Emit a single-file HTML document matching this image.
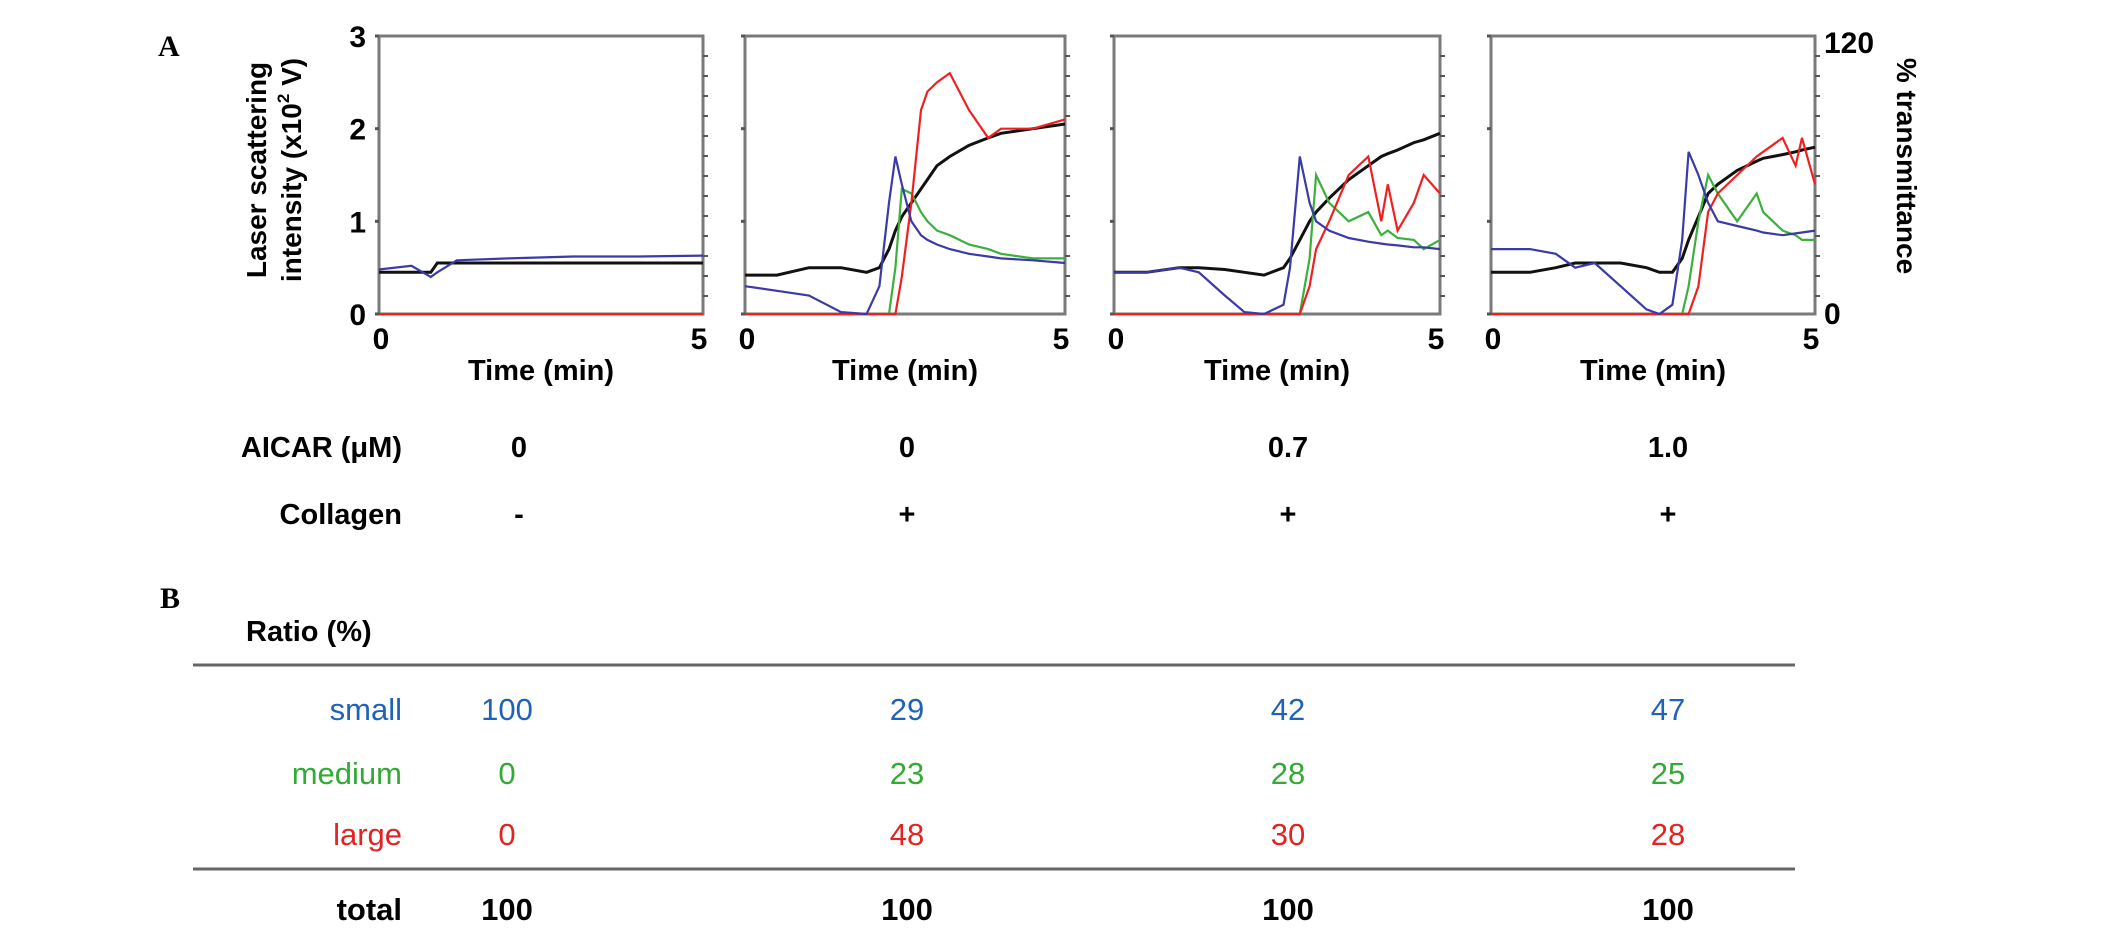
<!DOCTYPE html>
<html><head><meta charset="utf-8"><style>
body{margin:0;background:#fff;}
svg{display:block;font-family:"Liberation Sans",Arial,sans-serif;}
</style></head><body>
<svg id="fig" width="2126" height="939" viewBox="0 0 2126 939">
<text x="158" y="56" font-family="Liberation Serif,serif" font-weight="bold" font-size="30">A</text>
<g font-weight="bold" font-size="28" text-anchor="middle">
<text transform="translate(266,170) rotate(-90)">Laser scattering</text>
<text transform="translate(301,170) rotate(-90)">intensity (x10<tspan font-size="17" dy="-12">2</tspan><tspan dy="12"> V)</tspan></text>
</g>
<g font-weight="bold" font-size="30" text-anchor="end" id="yticks"></g>
<g font-weight="bold" font-size="30">
<text x="1824" y="53">120</text>
<text x="1824" y="324">0</text>
<text transform="translate(1897,166) rotate(90)" text-anchor="middle" font-size="28">% transmittance</text>
</g>
<g id="panels"></g>
<g font-weight="bold" font-size="29">
<text x="402" y="457" text-anchor="end">AICAR (μM)</text>
<text x="402" y="524" text-anchor="end">Collagen</text>
<text x="519" y="457" text-anchor="middle">0</text><text x="907" y="457" text-anchor="middle">0</text><text x="1288" y="457" text-anchor="middle">0.7</text><text x="1668" y="457" text-anchor="middle">1.0</text>
<text x="519" y="524" text-anchor="middle">-</text><text x="907" y="524" text-anchor="middle">+</text><text x="1288" y="524" text-anchor="middle">+</text><text x="1668" y="524" text-anchor="middle">+</text>
</g>
<text x="160" y="608" font-family="Liberation Serif,serif" font-weight="bold" font-size="30">B</text>
<g font-size="31">
<text x="246" y="641" font-weight="bold" font-size="29">Ratio (%)</text>
<line x1="193" y1="665" x2="1795" y2="665" stroke="#666" stroke-width="3"/>
<line x1="193" y1="869" x2="1795" y2="869" stroke="#666" stroke-width="3"/>
<g id="rows"></g>
</g>
</svg>
<script>
const NS='http://www.w3.org/2000/svg';
const svg=document.getElementById('fig');
function mk(tag,attrs,parent){const e=document.createElementNS(NS,tag);for(const k in attrs)e.setAttribute(k,attrs[k]);parent.appendChild(e);return e;}
const yTickLabels=['0','1','2','3'];
const xTickLabels=['0','5'];
// time points and series values (x10^2 V) per panel
const p1T=[0,0.5,0.8,0.9,1.2,2,3,4,5];
const p1Black=[0.45,0.45,0.45,0.55,0.55,0.55,0.55,0.55,0.55];
const p1Blue=[0.48,0.52,0.4,0.45,0.58,0.6,0.62,0.62,0.63];
const p1Green=[0,0,0,0,0,0,0,0,0];
const p1Red=[0,0,0,0,0,0,0,0,0];
const p2T=[0,0.5,1,1.5,1.9,2.1,2.25,2.35,2.45,2.6,2.75,2.85,3,3.2,3.5,3.8,4,4.5,5];
const p2Black=[0.42,0.42,0.5,0.5,0.45,0.5,0.7,0.9,1.05,1.2,1.35,1.45,1.6,1.7,1.82,1.9,1.95,2.0,2.05];
const p2Blue=[0.3,0.25,0.2,0.02,0,0.3,1.2,1.7,1.4,1.0,0.85,0.8,0.75,0.7,0.65,0.62,0.6,0.58,0.55];
const p2Green=[0,0,0,0,0,0,0,0.5,1.35,1.3,1.1,1.0,0.9,0.85,0.75,0.7,0.65,0.6,0.6];
const p2Red=[0,0,0,0,0,0,0,0,0.4,1.2,2.2,2.4,2.5,2.6,2.2,1.9,2.0,2.0,2.1];
const p3T=[0,0.5,1,1.3,1.7,2,2.3,2.6,2.7,2.85,3,3.1,3.3,3.6,3.9,4.1,4.2,4.35,4.6,4.75,5];
const p3Black=[0.45,0.45,0.5,0.5,0.48,0.45,0.42,0.5,0.6,0.8,1.0,1.1,1.25,1.45,1.6,1.7,1.73,1.77,1.85,1.88,1.95];
const p3Blue=[0.45,0.45,0.5,0.45,0.2,0.02,0,0.1,0.5,1.7,1.2,1.0,0.9,0.82,0.78,0.76,0.75,0.74,0.72,0.72,0.7];
const p3Green=[0,0,0,0,0,0,0,0,0,0,0.6,1.5,1.2,1.0,1.1,0.85,0.9,0.82,0.8,0.7,0.8];
const p3Red=[0,0,0,0,0,0,0,0,0,0,0.3,0.7,1.0,1.5,1.7,1.0,1.4,0.9,1.2,1.5,1.3];
const p4T=[0,0.6,1,1.3,1.6,2,2.4,2.6,2.8,2.95,3.05,3.2,3.35,3.5,3.8,4.1,4.2,4.5,4.7,4.8,5];
const p4Black=[0.45,0.45,0.5,0.55,0.55,0.55,0.5,0.45,0.45,0.6,0.8,1.05,1.3,1.4,1.55,1.65,1.68,1.72,1.75,1.77,1.8];
const p4Blue=[0.7,0.7,0.65,0.5,0.55,0.3,0.05,0,0.1,0.8,1.75,1.5,1.2,1.0,0.95,0.9,0.88,0.85,0.87,0.88,0.9];
const p4Green=[0,0,0,0,0,0,0,0,0,0,0.3,1.0,1.5,1.3,1.0,1.3,1.1,0.9,0.85,0.8,0.8];
const p4Red=[0,0,0,0,0,0,0,0,0,0,0,0.3,1.1,1.3,1.5,1.7,1.75,1.9,1.6,1.9,1.4];
const panelData=[
 {t:p1T,s:[p1Black,p1Green,p1Red,p1Blue]},
 {t:p2T,s:[p2Black,p2Green,p2Red,p2Blue]},
 {t:p3T,s:[p3Black,p3Green,p3Red,p3Blue]},
 {t:p4T,s:[p4Black,p4Green,p4Red,p4Blue]}];
const seriesNames=['transmittance-line','medium-line','large-line','small-line'];
const seriesColors=['#111','#3cb03c','#f02020','#3a3aa8'];
// layout
const frames=[[379,703],[745,1065],[1114,1440],[1491,1815]];
const yTop=36,yBot=314,yMax=3;
function ys(v){return yBot-(v/yMax)*(yBot-yTop);}
const yt=document.getElementById('yticks');
yTickLabels.forEach((l,i)=>{const e=mk('text',{x:366,y:ys(+l)+11},yt);e.textContent=l;});
const pg=document.getElementById('panels');
frames.forEach((f,pi)=>{
 const [x0,x1]=f;const xs=t=>x0+(t/5)*(x1-x0);
 const g=mk('g',{},pg);
 
 
 const fr=mk('rect',{x:x0,y:yTop,width:x1-x0,height:yBot-yTop,fill:'none',stroke:'#7a7a7a','stroke-width':3},g);
 
 
 for(let k=1;k<14;k++){const y=yTop+k*20;mk('line',{x1:x1,x2:x1+5,y1:y,y2:y,stroke:'#555','stroke-width':2},g);}
 [0,1,2,3].forEach(v=>mk('line',{x1:x0-4,x2:x0,y1:ys(v),y2:ys(v),stroke:'#555','stroke-width':3},g));
 const d=panelData[pi];
 d.s.forEach((vals,si)=>{
  const pts=d.t.map((t,i)=>xs(t).toFixed(1)+','+ys(vals[i]).toFixed(1)).join(' ');
  const pl=mk('polyline',{points:pts,fill:'none',stroke:seriesColors[si],'stroke-width':si==0?3:2.2},g);
  
  
 });
 xTickLabels.forEach((l,i)=>{const e=mk('text',{x:i?x1-4:x0+2,y:349,'font-weight':'bold','font-size':30,'text-anchor':'middle'},g);e.textContent=l;});
 const xt=mk('text',{x:(x0+x1)/2,y:380,'font-weight':'bold','font-size':29,'text-anchor':'middle'},g);
 xt.textContent='Time (min)';
 
 
});
// table
const rowLabels=['small','medium','large','total'];
const rowColors=['#1f63b8','#33aa33','#e52222','#000'];
const colX=[507,907,1288,1668];
const smallVals=[100,29,42,47];
const mediumVals=[0,23,28,25];
const largeVals=[0,48,30,28];
const totalVals=[100,100,100,100];
const rowVals=[smallVals,mediumVals,largeVals,totalVals];
const rowY=[720,784,845,920];
const rg=document.getElementById('rows');
rowLabels.forEach((lab,r)=>{
 const g=mk('g',{fill:rowColors[r],'font-weight':r==3?'bold':'normal'},rg);
 
 
 const t=mk('text',{x:402,y:rowY[r],'text-anchor':'end'},g);t.textContent=lab;
 rowVals[r].forEach((v,c)=>{const e=mk('text',{x:colX[c],y:rowY[r],'text-anchor':'middle'},g);e.textContent=v;});
});
</script>
</body></html>
